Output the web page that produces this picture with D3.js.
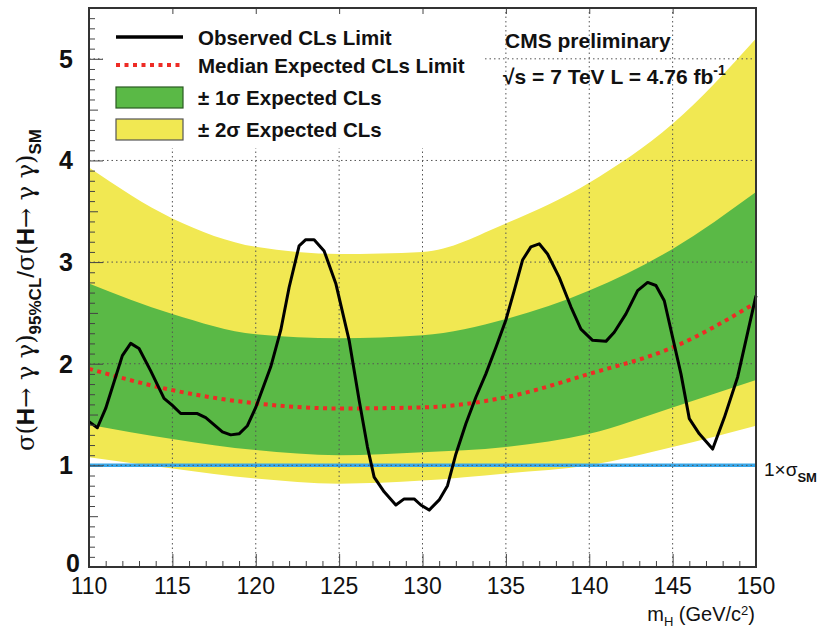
<!DOCTYPE html>
<html>
<head>
<meta charset="utf-8">
<script src="https://cdn.jsdelivr.net/npm/d3@7"></script>
<style>
  body { margin: 0; background: #fff; }
  text { font-family: "Liberation Sans", Arial, sans-serif; }
</style>
</head>
<body>
<div id="chart"></div>
<script>
// band values at 5 GeV steps
var bandMass    = [110, 115, 120, 125, 130, 135, 140, 145, 150];
var expMedian   = [1.95, 1.74, 1.61, 1.56, 1.57, 1.67, 1.90, 2.16, 2.60];
var oneSigmaUp  = [2.79, 2.49, 2.29, 2.25, 2.28, 2.44, 2.72, 3.13, 3.69];
var oneSigmaLo  = [1.40, 1.26, 1.15, 1.10, 1.13, 1.18, 1.31, 1.57, 1.84];
var twoSigmaUp  = [3.93, 3.43, 3.15, 3.08, 3.10, 3.38, 3.78, 4.36, 5.20];
var twoSigmaLo  = [1.08, 0.97, 0.87, 0.82, 0.85, 0.92, 1.00, 1.18, 1.39];

// observed limit
var obsMass = [110, 110.5, 111, 112, 112.5, 113, 113.7, 114.5, 115, 115.5,
  116.5, 117, 118, 118.5, 119, 119.5, 120, 120.9, 121.5, 122,
  122.6, 123, 123.5, 124.1, 124.8, 125.6, 126.2, 126.7, 127.1, 127.7,
  128.4, 128.9, 129.5, 129.9, 130.4, 131, 131.5, 132, 132.6, 133.2,
  133.8, 134.4, 135, 135.5, 136, 136.5, 137, 137.5, 138.2, 138.9,
  139.5, 140.2, 141, 141.5, 142.2, 142.9, 143.5, 144, 144.5, 145,
  145.5, 146, 146.6, 147.4, 148.1, 148.9, 150];
var obsLimit = [1.43, 1.37, 1.56, 2.08, 2.20, 2.15, 1.93, 1.66, 1.59, 1.51,
  1.51, 1.47, 1.33, 1.30, 1.31, 1.39, 1.57, 1.97, 2.33, 2.75,
  3.16, 3.22, 3.22, 3.11, 2.79, 2.23, 1.64, 1.18, 0.885, 0.74,
  0.61, 0.67, 0.67, 0.61, 0.56, 0.66, 0.80, 1.11, 1.41, 1.67,
  1.90, 2.16, 2.43, 2.72, 3.02, 3.15, 3.18, 3.08, 2.85, 2.56,
  2.34, 2.23, 2.22, 2.31, 2.49, 2.72, 2.80, 2.77, 2.62, 2.26,
  1.90, 1.46, 1.31, 1.16, 1.47, 1.87, 2.67];

var xTicks = [110, 115, 120, 125, 130, 135, 140, 145, 150];
var yTicks = [0, 1, 2, 3, 4, 5];
var legendLabels = ["Observed CLs Limit", "Median Expected CLs Limit", "± 1σ Expected CLs", "± 2σ Expected CLs"];

var W = 823, H = 628;
var margin = {top: 8, right: 67, bottom: 61, left: 89};

var svg = d3.select("#chart")
  .append("svg")
    .attr("width", W)
    .attr("height", H);

var x = d3.scaleLinear().domain([110, 150]).range([margin.left, W - margin.right]);
var y = d3.scaleLinear().domain([0, 5.5]).range([H - margin.bottom, margin.top]);

var yellow = "#f1e852", green = "#5ab946";

var bands = bandMass.map(function(m, i) {
  return {m: m, med: expMedian[i], u1: oneSigmaUp[i], l1: oneSigmaLo[i], u2: twoSigmaUp[i], l2: twoSigmaLo[i]};
});

var area2 = d3.area().curve(d3.curveMonotoneX)
  .x(function(d) { return x(d.m); })
  .y0(function(d) { return y(d.l2); })
  .y1(function(d) { return y(d.u2); });
var area1 = d3.area().curve(d3.curveMonotoneX)
  .x(function(d) { return x(d.m); })
  .y0(function(d) { return y(d.l1); })
  .y1(function(d) { return y(d.u1); });

svg.append("path").datum(bands).attr("d", area2).attr("fill", yellow);
svg.append("path").datum(bands).attr("d", area1).attr("fill", green);

// SM line
svg.append("line")
  .attr("x1", x(110)).attr("x2", x(150))
  .attr("y1", y(1)).attr("y2", y(1))
  .attr("stroke", "#38a8ea").attr("stroke-width", 3.5);

// grid (dotted, on top of bands)
var grid = svg.append("g").attr("stroke", "#555").attr("stroke-width", 1).attr("stroke-dasharray", "1.5,3");
grid.selectAll(".gx").data(xTicks.slice(1, -1)).enter().append("line")
  .attr("x1", d => x(d)).attr("x2", d => x(d))
  .attr("y1", y(0)).attr("y2", y(5.5));
grid.selectAll(".gy").data(yTicks.slice(1)).enter().append("line")
  .attr("x1", x(110)).attr("x2", x(150))
  .attr("y1", d => y(d)).attr("y2", d => y(d));

// median expected
var medLine = d3.line().curve(d3.curveMonotoneX)
  .x(d => x(d.m)).y(d => y(d.med));
svg.append("path").datum(bands).attr("d", medLine)
  .attr("fill", "none").attr("stroke", "#ee2b25")
  .attr("stroke-width", 4).attr("stroke-dasharray", "4,4.5");

// observed
var obs = obsMass.map((m, i) => ({m: m, v: obsLimit[i]}));
svg.append("path").datum(obs)
  .attr("d", d3.line().x(d => x(d.m)).y(d => y(d.v)))
  .attr("fill", "none").attr("stroke", "#000").attr("stroke-width", 3)
  .attr("stroke-linejoin", "round");

// legend with white background
var legend = svg.append("g").attr("class", "legend");
legend.append("rect")
  .attr("x", 103).attr("y", margin.top + 2).attr("width", 382).attr("height", 138)
  .attr("fill", "#fff");
var rowY = [37, 65, 97, 129];
legend.append("line").attr("x1", 116).attr("x2", 183).attr("y1", rowY[0]).attr("y2", rowY[0])
  .attr("stroke", "#000").attr("stroke-width", 3.5);
legend.append("line").attr("x1", 116).attr("x2", 183).attr("y1", rowY[1]).attr("y2", rowY[1])
  .attr("stroke", "#ee2b25").attr("stroke-width", 4).attr("stroke-dasharray", "4,4.5");
legend.append("rect").attr("x", 116).attr("y", rowY[2] - 10).attr("width", 67).attr("height", 21)
  .attr("fill", green).attr("stroke", "#2a5a22").attr("stroke-width", 1.2);
legend.append("rect").attr("x", 116).attr("y", rowY[3] - 10).attr("width", 67).attr("height", 21)
  .attr("fill", yellow).attr("stroke", "#555").attr("stroke-width", 1.2);
legend.selectAll(".lt").data(legendLabels).enter().append("text")
  .attr("x", 198).attr("y", (d, i) => rowY[i] + 8)
  .attr("font-size", 20.5).attr("font-weight", "bold").attr("fill", "#111")
  .text(d => d);

// frame + axes
var gx = svg.append("g").attr("transform", "translate(0," + y(0) + ")")
  .call(d3.axisBottom(x).tickValues(d3.range(110, 151, 1)).tickSize(-6).tickFormat(""));
gx.selectAll(".tick line").filter(d => d % 5 === 0).attr("y2", -13);
var gy = svg.append("g").attr("transform", "translate(" + x(110) + ",0)")
  .call(d3.axisLeft(y).tickValues(d3.range(0, 55).map(i => i / 10)).tickSize(-6).tickFormat(""));
gy.selectAll(".tick line").filter(d => Math.abs(d - Math.round(d)) < 1e-6).attr("x2", 14);
gy.selectAll(".tick line").filter(d => Math.abs(d * 2 - Math.round(d * 2)) < 1e-6 && Math.abs(d - Math.round(d)) > 1e-6).attr("x2", 9);
var gt = svg.append("g").attr("transform", "translate(0," + y(5.5) + ")")
  .call(d3.axisTop(x).tickValues(xTicks).tickSize(-6).tickFormat(""));
[gx, gy, gt].forEach(function(g) {
  g.select(".domain").remove();
  g.selectAll(".tick line").attr("stroke", "#444");
});
svg.append("rect")
  .attr("x", x(110)).attr("y", y(5.5))
  .attr("width", x(150) - x(110)).attr("height", y(0) - y(5.5))
  .attr("fill", "none").attr("stroke", "#333").attr("stroke-width", 2);

// tick labels
svg.selectAll(".xl").data(xTicks).enter().append("text")
  .attr("x", d => x(d)).attr("y", 594)
  .attr("text-anchor", "middle").attr("font-size", 23).attr("fill", "#111")
  .text(d => d);
svg.selectAll(".yl").data(yTicks).enter().append("text")
  .attr("x", d => d === 0 ? 80 : 73).attr("y", d => d === 0 ? y(d) + 5 : y(d) + 9)
  .attr("text-anchor", "end").attr("font-size", 25).attr("font-weight", "bold").attr("fill", "#111")
  .text(d => d);

// axis titles
var xt = svg.append("text").attr("x", 755).attr("y", 621)
  .attr("text-anchor", "end").attr("font-size", 20).attr("fill", "#111");
xt.append("tspan").text("m");
xt.append("tspan").attr("dy", 5).attr("font-size", 13).text("H");
xt.append("tspan").attr("dy", -5).text(" (GeV/c");
xt.append("tspan").attr("dy", -6).attr("font-size", 13).text("2");
xt.append("tspan").attr("dy", 6).text(")");

var yt = svg.append("text")
  .attr("transform", "translate(34,290) rotate(-90)")
  .attr("text-anchor", "middle").attr("font-size", 24).attr("fill", "#111");
yt.append("tspan").attr("font-family", "DejaVu Serif").text("σ(");
yt.append("tspan").attr("font-weight", "bold").text("H");
yt.append("tspan").attr("font-family", "DejaVu Serif").text("→ γ γ)");
yt.append("tspan").attr("dy", 7).attr("font-size", 17).attr("font-weight", "bold").text("95%CL");
yt.append("tspan").attr("dy", -7).text("/");
yt.append("tspan").attr("font-family", "DejaVu Serif").text("σ(");
yt.append("tspan").attr("font-weight", "bold").text("H");
yt.append("tspan").attr("font-family", "DejaVu Serif").text("→ γ γ)");
yt.append("tspan").attr("dy", 7).attr("font-size", 17).attr("font-weight", "bold").text("SM");

// CMS labels
svg.append("text").attr("x", 505).attr("y", 48)
  .attr("font-size", 21).attr("font-weight", "bold").attr("fill", "#111")
  .text("CMS preliminary");
var lumi = svg.append("text").attr("x", 503).attr("y", 84)
  .attr("font-size", 21).attr("font-weight", "bold").attr("fill", "#111");
lumi.append("tspan").text("√s = 7 TeV L = 4.76 fb");
lumi.append("tspan").attr("dy", -9).attr("font-size", 14).text("-1");

// 1 x sigma SM label
var sm = svg.append("text").attr("x", 764).attr("y", 476)
  .attr("font-size", 19).attr("fill", "#111");
sm.append("tspan").text("1×σ");
sm.append("tspan").attr("dy", 6).attr("font-size", 13).attr("font-weight", "bold").text("SM");
</script>
</body>
</html>
